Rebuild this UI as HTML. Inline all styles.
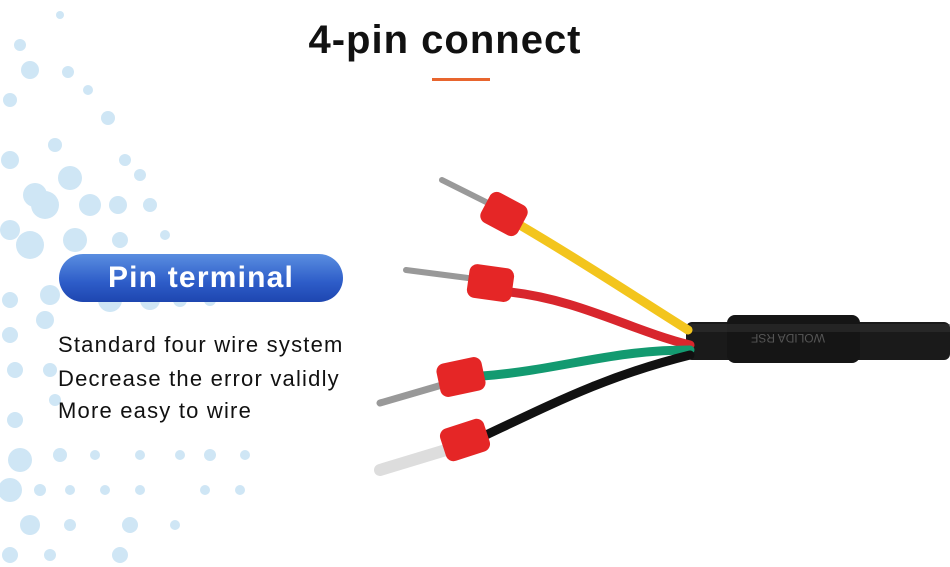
<!DOCTYPE html>
<html><head><style>
body{margin:0;width:950px;height:567px;overflow:hidden;background:#fff;font-family:"Liberation Sans","DejaVu Sans",sans-serif;position:relative}
.t{position:absolute;left:0;width:890px;text-align:center;top:18px;font-size:40px;font-weight:bold;color:#111;letter-spacing:1px}
.bar{position:absolute;left:432px;top:78px;width:58px;height:3px;background:#e8652e}
.pill{position:absolute;left:59px;top:254px;width:284px;height:48px;border-radius:24px;background:linear-gradient(#5a8ee0,#2d5cc8 60%,#1e46b0);color:#fff;font-size:30px;font-weight:bold;text-align:center;line-height:48px;letter-spacing:1.2px}
.d{position:absolute;left:58px;font-size:22px;color:#111;letter-spacing:1.2px}
</style></head><body>
<svg width="950" height="567" style="position:absolute;left:0;top:0">
<g fill="#cfe6f5">
<circle cx="20" cy="45" r="6"/><circle cx="60" cy="15" r="4"/><circle cx="30" cy="70" r="9"/><circle cx="68" cy="72" r="6"/><circle cx="10" cy="100" r="7"/><circle cx="88" cy="90" r="5"/>
<circle cx="10" cy="160" r="9"/><circle cx="55" cy="145" r="7"/><circle cx="108" cy="118" r="7"/><circle cx="125" cy="160" r="6"/>
<circle cx="35" cy="195" r="12"/><circle cx="70" cy="178" r="12"/><circle cx="10" cy="230" r="10"/><circle cx="45" cy="205" r="14"/><circle cx="90" cy="205" r="11"/><circle cx="118" cy="205" r="9"/><circle cx="140" cy="175" r="6"/><circle cx="150" cy="205" r="7"/>
<circle cx="30" cy="245" r="14"/><circle cx="75" cy="240" r="12"/><circle cx="120" cy="240" r="8"/><circle cx="165" cy="235" r="5"/>
<circle cx="10" cy="300" r="8"/><circle cx="50" cy="295" r="10"/><circle cx="10" cy="335" r="8"/><circle cx="45" cy="320" r="9"/>
<circle cx="110" cy="300" r="12"/><circle cx="150" cy="300" r="10"/><circle cx="180" cy="300" r="7"/><circle cx="210" cy="300" r="6"/>
<circle cx="15" cy="370" r="8"/><circle cx="50" cy="370" r="7"/><circle cx="15" cy="420" r="8"/><circle cx="55" cy="400" r="6"/>
<circle cx="20" cy="460" r="12"/><circle cx="60" cy="455" r="7"/><circle cx="95" cy="455" r="5"/><circle cx="140" cy="455" r="5"/><circle cx="180" cy="455" r="5"/><circle cx="210" cy="455" r="6"/><circle cx="245" cy="455" r="5"/>
<circle cx="10" cy="490" r="12"/><circle cx="40" cy="490" r="6"/><circle cx="70" cy="490" r="5"/><circle cx="105" cy="490" r="5"/><circle cx="140" cy="490" r="5"/><circle cx="205" cy="490" r="5"/><circle cx="240" cy="490" r="5"/>
<circle cx="30" cy="525" r="10"/><circle cx="70" cy="525" r="6"/><circle cx="130" cy="525" r="8"/><circle cx="175" cy="525" r="5"/>
<circle cx="10" cy="555" r="8"/><circle cx="50" cy="555" r="6"/><circle cx="120" cy="555" r="8"/>
</g>
<rect x="686" y="322" width="264" height="38" rx="6" fill="#1a1a1a"/>
<rect x="727" y="315" width="133" height="48" rx="8" fill="#151515"/>
<rect x="690" y="324" width="260" height="8" fill="#333" opacity=".5"/>
<text x="735" y="342" fill="#555" font-size="12" transform="rotate(180 780 338)">WOLIDA RSF</text>
<g fill="none" stroke-linecap="round" stroke-width="9">
<path d="M518 224 C580 260 640 300 688 330" stroke="#f3c51d"/>
<path d="M510 292 C580 300 630 330 690 345" stroke="#d8262d"/>
<path d="M482 376 C560 370 610 350 690 350" stroke="#139a70"/>
<path d="M486 435 C560 400 610 375 690 355" stroke="#111"/>
</g>
<g stroke-linecap="round">
<line x1="442" y1="180" x2="492" y2="205" stroke="#999" stroke-width="6"/>
<line x1="406" y1="270" x2="468" y2="278" stroke="#999" stroke-width="6"/>
<line x1="380" y1="403" x2="442" y2="385" stroke="#999" stroke-width="7"/>
<line x1="380" y1="470" x2="446" y2="450" stroke="#ddd" stroke-width="12"/>
</g>
<g fill="#e52626">
<rect x="483" y="197" width="42" height="34" rx="8" transform="rotate(28 504 214)"/>
<rect x="468" y="266" width="45" height="34" rx="8" transform="rotate(8 490 283)"/>
<rect x="438" y="360" width="46" height="34" rx="8" transform="rotate(-12 461 377)"/>
<rect x="442" y="423" width="46" height="34" rx="8" transform="rotate(-18 465 440)"/>
</g>
</svg>
<div class="t">4-pin connect</div>
<div class="bar"></div>
<div class="pill">Pin terminal</div>
<div class="d" style="top:332px">Standard four wire system</div>
<div class="d" style="top:366px">Decrease the error validly</div>
<div class="d" style="top:398px">More easy to wire</div>
</body></html>
